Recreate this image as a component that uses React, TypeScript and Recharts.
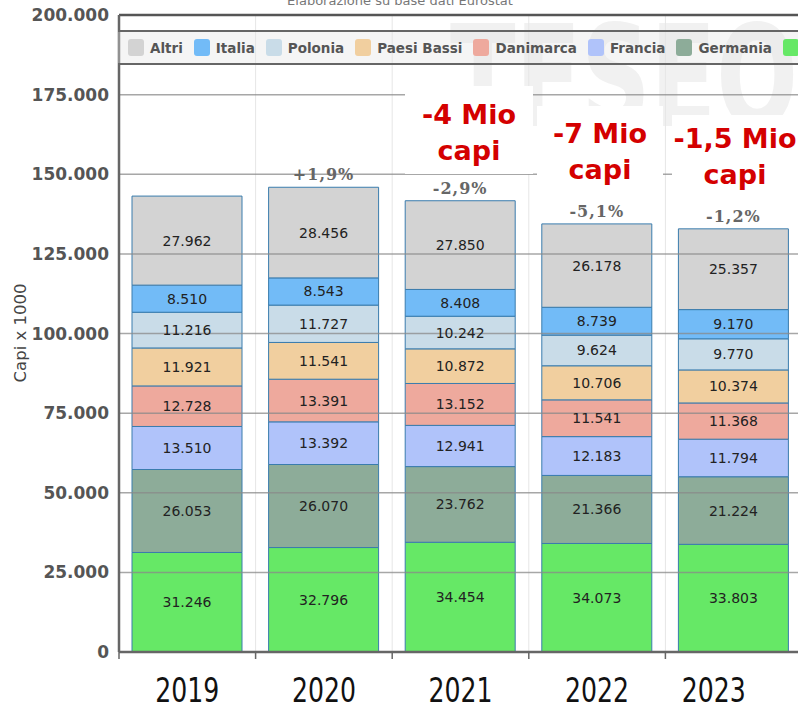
import React from 'react';
import { BarChart, Bar, XAxis, YAxis, CartesianGrid, LabelList, ReferenceLine } from 'recharts';

const categories = ['2019', '2020', '2021', '2022', '2023'];
const spagna = [31246, 32796, 34454, 34073, 33803];
const germania = [26053, 26070, 23762, 21366, 21224];
const francia = [13510, 13392, 12941, 12183, 11794];
const danimarca = [12728, 13391, 13152, 11541, 11368];
const paesiBassi = [11921, 11541, 10872, 10706, 10374];
const polonia = [11216, 11727, 10242, 9624, 9770];
const italia = [8510, 8543, 8408, 8739, 9170];
const altri = [27962, 28456, 27850, 26178, 25357];
const variations = ['', '+1,9%', '-2,9%', '-5,1%', '-1,2%'];
const yTicks = [0, 25000, 50000, 75000, 100000, 125000, 150000, 175000, 200000];
const annotationLines = [
  ['-4 Mio', 'capi'],
  ['-7 Mio', 'capi'],
  ['-1,5 Mio', 'capi'],
];
const title = 'Elaborazione su base dati Eurostat';
const yLabel = 'Capi x 1000';

const series = [
  { key: 'spagna', name: 'Spagna', color: '#66e866', values: spagna },
  { key: 'germania', name: 'Germania', color: '#8dac99', values: germania },
  { key: 'francia', name: 'Francia', color: '#b0c3fa', values: francia },
  { key: 'danimarca', name: 'Danimarca', color: '#eea99d', values: danimarca },
  { key: 'paesiBassi', name: 'Paesi Bassi', color: '#f1cf9f', values: paesiBassi },
  { key: 'polonia', name: 'Polonia', color: '#c9dce8', values: polonia },
  { key: 'italia', name: 'Italia', color: '#72bbf7', values: italia },
  { key: 'altri', name: 'Altri', color: '#d3d3d3', values: altri },
];

const data = categories.map((c, i) => {
  const row: any = { year: c, variation: variations[i] };
  series.forEach((s) => (row[s.key] = s.values[i]));
  return row;
});

const fmt = (n: any) => String(n).replace(/\B(?=(\d{3})+(?!\d))/g, '.');

const CHART_W = 802;
const PLOT_LEFT = 119;
const BAND = (CHART_W - PLOT_LEFT) / categories.length;

const YearTick = (props: any) => {
  const { x, y, payload, index } = props;
  const shift = index === categories.length - 1 ? -20 : 0;
  return (
    <g>
      <line x1={x - BAND / 2} x2={x - BAND / 2} y1={y} y2={y + 7} stroke="#666" strokeWidth={1.5} />
      <text
        x={x + shift}
        y={y + 50}
        textAnchor="middle"
        fontFamily="'Liberation Sans Narrow', 'DejaVu Sans Condensed', 'DejaVu Sans'"
        fontSize={34}
        fill="#111"
        textLength={64}
        lengthAdjust="spacingAndGlyphs"
      >
        {payload.value}
      </text>
    </g>
  );
};

const annotBoxes = [
  { left: 405, top: 86, width: 128, height: 88, pt: 11 },
  { left: 537, top: 106, width: 126, height: 89, pt: 10 },
  { left: 672, top: 115, width: 126, height: 86, pt: 6 },
];

export default function App() {
  return (
    <div style={{ position: 'absolute', left: 0, top: 0, width: 798, height: 704, overflow: 'hidden', background: '#fff' }}>
      <svg style={{ position: 'absolute', left: 0, top: 0 }} width={798} height={704}>
        <text x={450} y={126} fontSize={140} fontWeight="bold" fill="#f1f1f1" fontFamily="DejaVu Sans" textLength={348} lengthAdjust="spacingAndGlyphs">
          TESEO
        </text>
        <text x={400} y={5} fontSize={13} fill="#777" textAnchor="middle" fontFamily="DejaVu Sans">
          {title}
        </text>
        <text x={20} y={333} fontSize={16.5} fill="#444" textAnchor="middle" fontFamily="DejaVu Sans" transform="rotate(-90 20 333)" dominantBaseline="central">
          {yLabel}
        </text>
      </svg>
      <div style={{ position: 'absolute', left: 0, top: 0 }}>
        <BarChart width={CHART_W} height={704} data={data} margin={{ top: 15, right: 0, bottom: 0, left: 0 }}>
          <CartesianGrid
            horizontal={false}
            vertical={true}
            stroke="#e6e6e6"
            verticalCoordinatesGenerator={({ offset }: any) =>
              categories.map((_, i) => offset.left + (i + 1) * (offset.width / categories.length))
            }
          />
          <XAxis
            dataKey="year"
            height={52}
            tickLine={false}
            tickSize={0}
            tickMargin={0}
            axisLine={{ stroke: '#666', strokeWidth: 2.5 }}
            tick={<YearTick />}
            interval={0}
          />
          <YAxis
            width={PLOT_LEFT}
            domain={[0, 200000]}
            ticks={yTicks}
            tickFormatter={fmt}
            tickLine={false}
            tickMargin={4}
            axisLine={{ stroke: '#666', strokeWidth: 2.5 }}
            tick={{ fill: '#555', fontSize: 17, fontWeight: 'bold', fontFamily: 'DejaVu Sans' }}
            interval={0}
          />
          {series.map((s, si) => (
            <Bar key={s.key} dataKey={s.key} name={s.name} stackId="a" fill={s.color} stroke="#3a7cad" strokeWidth={1} barSize={110} isAnimationActive={false}>
              <LabelList dataKey={s.key} position="center" formatter={fmt} fill="#222" fontSize={14} fontFamily="DejaVu Sans" />
              {si === series.length - 1 ? (
                <LabelList dataKey="variation" position="top" offset={7} fill="#666" fontSize={16} fontWeight="bold" fontFamily="DejaVu Serif" letterSpacing={1} />
              ) : null}
            </Bar>
          ))}
          {yTicks.slice(1, -1).map((t) => (
            <ReferenceLine key={t} y={t} stroke="#8a8a8a" strokeWidth={1.5} strokeOpacity={0.75} />
          ))}
          <ReferenceLine y={200000} stroke="#555" strokeWidth={2.5} />
        </BarChart>
      </div>
      <div
        style={{
          position: 'absolute',
          left: 118,
          top: 30,
          width: 700,
          height: 31,
          borderTop: '2px solid #666',
          borderBottom: '2px solid #666',
          background: 'rgba(225,225,225,0.35)',
          display: 'flex',
          alignItems: 'center',
          paddingLeft: 10,
          whiteSpace: 'nowrap',
          fontFamily: 'DejaVu Sans',
          fontWeight: 'bold',
          fontSize: 13.5,
          color: '#555',
        }}
      >
        {[...series].reverse().map((s) => (
          <div key={s.key} style={{ display: 'flex', alignItems: 'center', marginRight: 11 }}>
            <div style={{ width: 16, height: 17, borderRadius: 3, background: s.color, marginRight: 6 }} />
            <span>{s.name}</span>
          </div>
        ))}
      </div>
      {annotBoxes.map((b, i) => (
        <div
          key={i}
          style={{
            position: 'absolute',
            left: b.left,
            top: b.top,
            width: b.width,
            height: b.height,
            paddingTop: b.pt,
            boxSizing: 'border-box',
            background: '#fff',
            color: '#d40000',
            fontFamily: 'DejaVu Sans',
            fontWeight: 'bold',
            fontSize: 27,
            lineHeight: '36px',
            textAlign: 'center',
            whiteSpace: 'nowrap',
          }}
        >
          {annotationLines[i].map((l, j) => (
            <div key={j}>{l}</div>
          ))}
        </div>
      ))}
    </div>
  );
}
